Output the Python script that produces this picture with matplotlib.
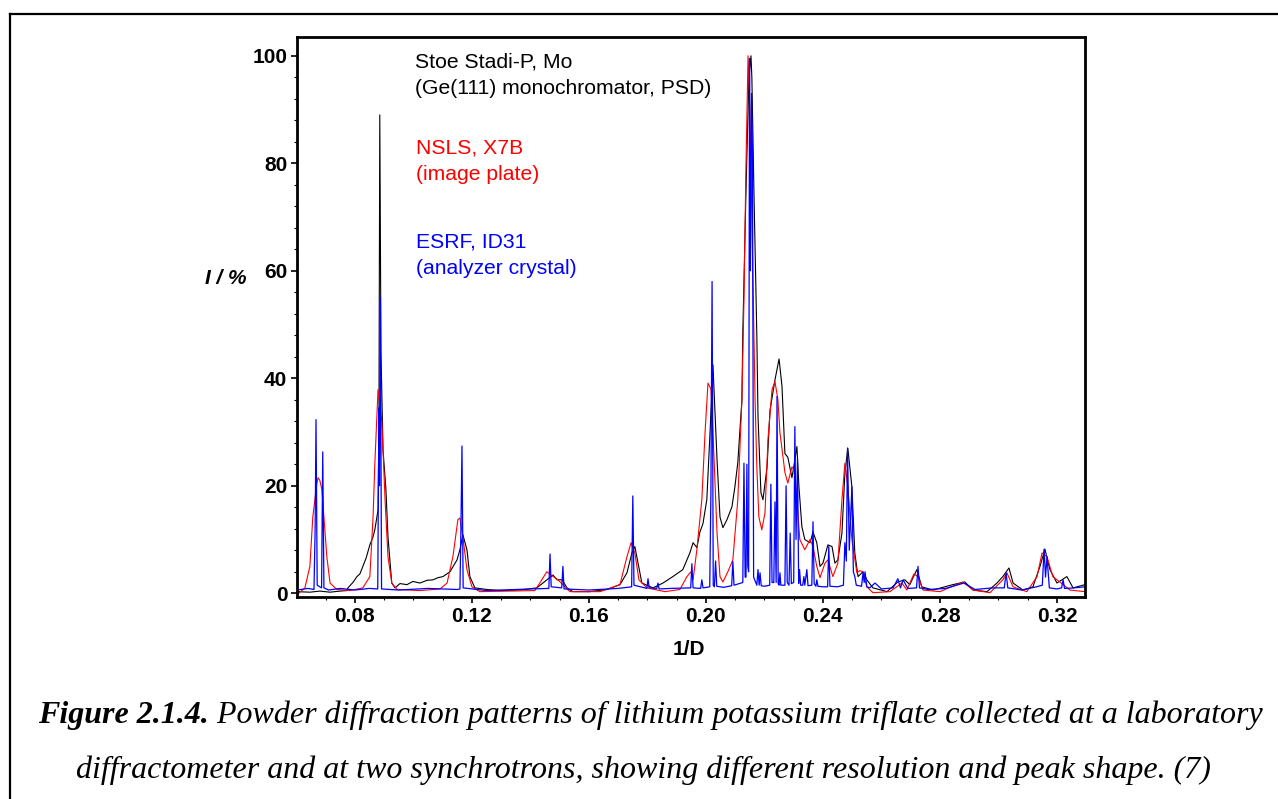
import matplotlib
matplotlib.use("Agg")
import matplotlib.pyplot as plt
from matplotlib.lines import Line2D
from matplotlib.ticker import MultipleLocator, FormatStrFormatter

# Stoe Stadi-P (lab, black) trace
stoe_x = [0.0602, 0.0646, 0.0680, 0.0715, 0.0749, 0.0773, 0.0776, 0.0793, 0.0807, 0.0817,
          0.0827, 0.0838, 0.0851, 0.0862, 0.0868, 0.0879, 0.0882, 0.0885, 0.0889, 0.0896,
          0.0906, 0.0913, 0.0926, 0.0937, 0.0954, 0.0978, 0.0998, 0.1022, 0.1046, 0.1067,
          0.1084, 0.1101, 0.1125, 0.1149, 0.1159, 0.1169, 0.1183, 0.1193, 0.1210, 0.1251,
          0.1296, 0.1364, 0.1422, 0.1456, 0.1477, 0.1491, 0.1508, 0.1525, 0.1545, 0.1603,
          0.1662, 0.1706, 0.1730, 0.1747, 0.1757, 0.1768, 0.1781, 0.1819, 0.1853, 0.1887,
          0.1921, 0.1945, 0.1956, 0.1969, 0.1979, 0.1990, 0.2003, 0.2014, 0.2024, 0.2038,
          0.2048, 0.2058, 0.2072, 0.2089, 0.2099, 0.2109, 0.2123, 0.2126, 0.2137, 0.2147,
          0.2154, 0.2157, 0.2164, 0.2174, 0.2178, 0.2188, 0.2195, 0.2209, 0.2219, 0.2236,
          0.2250, 0.2260, 0.2270, 0.2280, 0.2294, 0.2304, 0.2311, 0.2318, 0.2328, 0.2338,
          0.2356, 0.2366, 0.2379, 0.2390, 0.2400, 0.2417, 0.2431, 0.2441, 0.2451, 0.2465,
          0.2475, 0.2485, 0.2499, 0.2509, 0.2520, 0.2537, 0.2550, 0.2571, 0.2619, 0.2656,
          0.2680, 0.2697, 0.2721, 0.2738, 0.2776, 0.2844, 0.2885, 0.2913, 0.2961, 0.2995,
          0.3015, 0.3036, 0.3050, 0.3084, 0.3118, 0.3142, 0.3159, 0.3176, 0.3200, 0.3234,
          0.3255, 0.3296]
stoe_y = [0.3, 0.2, 0.4, 0.2, 0.4, 0.5, 1.0, 2.0, 3.1, 3.6,
          5.0, 6.5, 9.0, 10.5, 11.8, 15.5, 30.0, 89.0, 45.0, 26.7,
          19.3, 10.5, 1.9, 1.0, 1.8, 1.6, 2.2, 1.9, 2.4, 2.5,
          2.9, 3.1, 4.0, 6.2, 8.1, 10.9, 8.1, 3.1, 1.0, 0.7,
          0.5, 0.6, 1.0, 2.5, 3.4, 2.5, 2.5, 1.0, 0.3, 0.3,
          0.7, 1.6, 3.8, 7.5, 8.7, 5.6, 1.9, 1.0, 1.9, 3.1,
          4.4, 7.5, 9.4, 8.5, 11.3, 13.0, 17.4, 29.9, 42.5, 24.8,
          14.2, 12.2, 13.7, 16.1, 19.8, 24.3, 36.0, 48.4, 75.0, 96.0,
          100.0, 96.0, 75.0, 48.0, 32.9, 18.7, 17.4, 23.5, 34.0, 39.7,
          43.6, 38.5, 26.0, 25.3, 21.5, 24.8, 27.3, 19.8, 12.4, 10.0,
          9.4, 11.4, 9.4, 5.0, 5.6, 9.0, 8.7, 5.6, 6.2, 11.2,
          22.3, 27.0, 19.8, 7.5, 3.1, 4.0, 2.5, 1.0, 0.3, 2.1,
          2.5, 1.6, 4.4, 1.2, 0.6, 1.6, 2.1, 0.6, 0.3, 1.9,
          3.1, 4.7, 1.9, 0.6, 1.2, 5.0, 8.2, 4.4, 1.9, 3.1,
          1.0, 1.6]

# NSLS X7B (red) trace
nsls_x = [0.0602, 0.0629, 0.0646, 0.0656, 0.0670, 0.0674, 0.0680, 0.0687, 0.0694, 0.0704,
          0.0715, 0.0738, 0.0783, 0.0827, 0.0851, 0.0862, 0.0868, 0.0875, 0.0879, 0.0885,
          0.0892, 0.0903, 0.0913, 0.0926, 0.0944, 0.1022, 0.1091, 0.1115, 0.1135, 0.1152,
          0.1159, 0.1169, 0.1183, 0.1200, 0.1227, 0.1415, 0.1432, 0.1456, 0.1470, 0.1494,
          0.1511, 0.1535, 0.1638, 0.1706, 0.1730, 0.1744, 0.1757, 0.1771, 0.1798, 0.1860,
          0.1911, 0.1935, 0.1949, 0.1956, 0.1969, 0.1986, 0.1997, 0.2007, 0.2017, 0.2024,
          0.2038, 0.2048, 0.2058, 0.2075, 0.2092, 0.2109, 0.2123, 0.2130, 0.2137, 0.2144,
          0.2150, 0.2157, 0.2164, 0.2168, 0.2174, 0.2181, 0.2191, 0.2202, 0.2212, 0.2226,
          0.2236, 0.2246, 0.2253, 0.2270, 0.2280, 0.2294, 0.2301, 0.2311, 0.2321, 0.2338,
          0.2356, 0.2366, 0.2379, 0.2390, 0.2407, 0.2417, 0.2434, 0.2451, 0.2465, 0.2475,
          0.2485, 0.2499, 0.2516, 0.2526, 0.2537, 0.2550, 0.2571, 0.2629, 0.2670, 0.2687,
          0.2711, 0.2725, 0.2742, 0.2800, 0.2879, 0.2913, 0.2971, 0.3015, 0.3029, 0.3050,
          0.3097, 0.3132, 0.3149, 0.3166, 0.3186, 0.3210, 0.3244, 0.3296]
nsls_y = [-0.3, 1.0, 5.0, 14.2, 20.5, 21.5, 21.0, 19.3, 14.2, 6.8,
          1.9, 0.7, 0.5, 1.0, 3.1, 14.2, 24.0, 32.9, 37.9, 35.0,
          32.0, 17.4, 6.8, 1.9, 0.7, 0.5, 0.8, 1.9, 6.8, 13.7,
          14.0, 10.5, 4.4, 1.2, 0.3, 0.5, 1.9, 4.0, 3.4, 2.5,
          1.6, 0.3, 0.3, 1.6, 6.8, 9.4, 7.5, 2.5, 1.0, 0.3,
          0.7, 3.1, 4.0, 2.5, 8.1, 17.4, 29.9, 39.1, 38.0, 30.0,
          11.2, 3.1, 2.1, 4.0, 6.2, 17.4, 36.0, 54.6, 80.0, 100.0,
          90.0, 70.0, 48.0, 36.0, 23.5, 14.2, 11.8, 15.0, 28.6, 37.9,
          39.4, 36.0, 29.9, 22.5, 20.5, 23.5, 23.0, 17.4, 10.0, 8.1,
          10.0, 8.7, 5.0, 2.9, 5.6, 6.2, 3.1, 5.6, 17.4, 24.2,
          19.8, 10.0, 3.8, 4.2, 4.0, 1.2, 0.1, 0.3, 1.9, 0.6,
          3.6, 3.1, 0.6, 0.3, 2.1, 0.6, 0.1, 2.5, 3.8, 1.2,
          0.3, 3.1, 7.5, 6.8, 3.1, 2.1, 0.6, 0.3]

# ESRF ID31 (blue) trace
esrf_x = [0.0602, 0.0640, 0.0660, 0.0664, 0.0667, 0.0671, 0.0680, 0.0686, 0.0690, 0.0694,
          0.0710, 0.0750, 0.0800, 0.0850, 0.0878, 0.0882, 0.0884, 0.0887, 0.0891, 0.0950,
          0.1050, 0.1150, 0.1159, 0.1162, 0.1166, 0.1170, 0.1250, 0.1400, 0.1463, 0.1467,
          0.1471, 0.1507, 0.1511, 0.1515, 0.1600, 0.1700, 0.1746, 0.1750, 0.1754, 0.1798,
          0.1802, 0.1806, 0.1832, 0.1836, 0.1840, 0.1880, 0.1948, 0.1952, 0.1956, 0.1982,
          0.1986, 0.1990, 0.2013, 0.2017, 0.2021, 0.2025, 0.2029, 0.2033, 0.2037, 0.2060,
          0.2088, 0.2092, 0.2096, 0.2126, 0.2130, 0.2134, 0.2137, 0.2140, 0.2143, 0.2146,
          0.2149, 0.2152, 0.2156, 0.2159, 0.2163, 0.2174, 0.2178, 0.2182, 0.2185, 0.2189,
          0.2200, 0.2218, 0.2222, 0.2226, 0.2232, 0.2236, 0.2240, 0.2243, 0.2247, 0.2250,
          0.2253, 0.2256, 0.2270, 0.2274, 0.2278, 0.2284, 0.2288, 0.2292, 0.2300, 0.2304,
          0.2308, 0.2313, 0.2317, 0.2320, 0.2324, 0.2331, 0.2335, 0.2338, 0.2345, 0.2349,
          0.2362, 0.2366, 0.2370, 0.2376, 0.2379, 0.2383, 0.2400, 0.2416, 0.2420, 0.2424,
          0.2450, 0.2470, 0.2475, 0.2480, 0.2484, 0.2490, 0.2499, 0.2504, 0.2509, 0.2514,
          0.2532, 0.2537, 0.2541, 0.2544, 0.2550, 0.2560, 0.2578, 0.2600, 0.2640, 0.2656,
          0.2665, 0.2674, 0.2690, 0.2720, 0.2725, 0.2730, 0.2760, 0.2820, 0.2882, 0.2920,
          0.2980, 0.3020, 0.3026, 0.3032, 0.3080, 0.3130, 0.3150, 0.3156, 0.3161, 0.3166,
          0.3174, 0.3200, 0.3216, 0.3221, 0.3226, 0.3260, 0.3296]
esrf_y = [0.6, 0.9, 0.7, 12.0, 32.3, 1.5, 1.2, 1.0, 26.3, 1.0,
          0.6, 0.9, 0.6, 0.9, 0.8, 34.5, 20.0, 55.0, 0.8, 0.6,
          0.9, 0.7, 0.8, 10.5, 27.4, 1.0, 0.5, 0.8, 0.9, 7.3,
          1.2, 1.0, 5.0, 0.8, 0.6, 0.9, 1.2, 18.1, 1.5, 0.9,
          2.7, 1.0, 0.9, 1.9, 0.8, 0.9, 1.0, 5.5, 1.0, 0.9,
          2.5, 1.0, 1.2, 18.7, 58.0, 1.5, 1.2, 6.0, 1.3, 1.1,
          1.4, 5.9, 1.5, 2.0, 24.2, 3.0, 3.0, 24.0, 5.0, 4.0,
          99.5, 60.0, 93.0, 82.0, 3.0, 1.5, 4.4, 1.5, 3.8, 1.4,
          1.3, 1.5, 20.3, 2.0, 2.0, 17.0, 2.0, 36.6, 1.8, 1.5,
          3.8, 1.5, 1.5, 20.0, 2.0, 1.5, 11.2, 1.8, 2.0, 31.0,
          10.0, 25.0, 1.8, 4.4, 1.5, 1.5, 3.1, 1.5, 4.4, 1.4,
          1.5, 13.3, 1.8, 1.3, 2.5, 1.3, 1.2, 1.2, 8.7, 1.3,
          1.2, 1.5, 9.4, 6.0, 27.0, 8.0, 19.8, 4.0, 3.1, 1.5,
          1.3, 3.8, 2.0, 4.0, 1.2, 1.0, 1.9, 0.8, 1.0, 2.7,
          1.0, 2.5, 0.9, 1.0, 5.0, 1.0, 0.7, 0.9, 1.9, 0.7,
          1.0, 1.0, 3.8, 1.0, 0.6, 1.2, 1.5, 8.2, 3.0, 6.8,
          1.0, 0.8, 1.0, 2.5, 0.9, 1.0, 1.2]

x_ticks = [0.08, 0.12, 0.16, 0.20, 0.24, 0.28, 0.32]
y_ticks = [0, 20, 40, 60, 80, 100]

fig = plt.figure(figsize=(12.78, 7.99), dpi=100)
ax = fig.add_axes([0.2324, 0.2528, 0.6166, 0.7009])

ax.plot(stoe_x, stoe_y, color='black', lw=0.8)
ax.plot(nsls_x, nsls_y, color='#ff0000', lw=0.8)
ax.plot(esrf_x, esrf_y, color='#0000ff', lw=0.9)

ax.set_xlim(0.0602, 0.3296)
ax.set_ylim(-0.7, 103.5)
ax.set_xticks(x_ticks)
ax.set_yticks(y_ticks)
ax.xaxis.set_major_formatter(FormatStrFormatter('%.2f'))
ax.yaxis.set_minor_locator(MultipleLocator(4))
ax.xaxis.set_minor_locator(MultipleLocator(0.01))
ax.tick_params(which='major', direction='out', length=4, width=1.2, pad=3,
               labelsize=15)
ax.tick_params(which='minor', direction='out', length=2, width=0.8)
for lab in ax.get_xticklabels() + ax.get_yticklabels():
    lab.set_fontfamily('Liberation Sans')
    lab.set_fontweight('bold')
for s in ax.spines.values():
    s.set_linewidth(2)

ax.set_xlabel('1/D', fontsize=15, fontweight='bold', family='Liberation Sans')
ax.xaxis.set_label_coords(0.497, -0.077)
fig.text(0.177, 0.652, 'I / %', fontsize=15, fontweight='bold', style='italic',
         family='Liberation Sans', ha='center', va='center')

# instrument notes
note_kw = dict(fontsize=15.2, family='Liberation Sans', va='top', linespacing=1.5)
ax.text(0.1005, 100.6, 'Stoe Stadi-P, Mo\n(Ge(111) monochromator, PSD)', color='black', **note_kw)
ax.text(0.1009, 84.6, 'NSLS, X7B\n(image plate)', color='#ff0000', **note_kw)
ax.text(0.1009, 67.1, 'ESRF, ID31\n(analyzer crystal)', color='#0000ff', **note_kw)

# caption
cap_kw = dict(fontsize=23, family='Liberation Serif', style='italic')
t1 = fig.text(0.0297, 0.105, 'Figure 2.1.4.', fontweight='bold', va='center', **cap_kw)
ax.annotate(' Powder diffraction patterns of lithium potassium triflate collected at a laboratory',
            xy=(1, 0), xycoords=t1, va='bottom', ha='left', annotation_clip=False, **cap_kw)
fig.text(0.5035, 0.036, 'diffractometer and at two synchrotrons, showing different resolution and peak shape. (7)',
         ha='center', va='center', **cap_kw)

# page frame
fig.add_artist(Line2D([0.0078, 0.0078], [0.0, 0.9825], color='black', lw=1.6,
                      transform=fig.transFigure))
fig.add_artist(Line2D([0.0078, 1.0], [0.9825, 0.9825], color='black', lw=1.6,
                      transform=fig.transFigure))

fig.savefig('out.png', dpi=100)
